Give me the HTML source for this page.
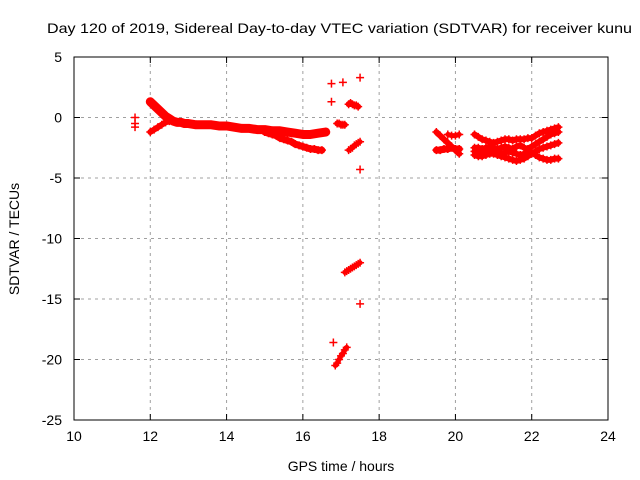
<!DOCTYPE html>
<html><head><meta charset="utf-8"><style>
body{margin:0;background:#fff}
svg{display:block;font-family:"Liberation Sans",sans-serif}
</style></head><body>
<svg id="chart" width="640" height="480" viewBox="0 0 640 480">
<rect width="640" height="480" fill="#fff"/>
<text x="47" y="33" font-size="14" textLength="585" lengthAdjust="spacingAndGlyphs">Day 120 of 2019, Sidereal Day-to-day VTEC variation (SDTVAR) for receiver kunu</text>
<text x="341" y="471" font-size="14" text-anchor="middle">GPS time / hours</text>
<text transform="translate(19,239) rotate(-90)" font-size="14" text-anchor="middle">SDTVAR / TECUs</text>
<g id="grid"></g>
<g id="ticks"></g>
<g id="marks"></g>
<rect x="74" y="57" width="534" height="363" fill="none" stroke="#000" stroke-width="1"/>
</svg>
<script>
const xTicks=[10,12,14,16,18,20,22,24];
const yTicks=[5,0,-5,-10,-15,-20,-25];
const s1x=[12.0,12.1,12.2,12.3,12.4,12.5,12.6,12.7,12.8,12.9,13.0,13.2,13.4,13.6,13.8,14.0,14.2,14.4,14.6,14.8,15.0,15.2,15.4,15.6,15.8,16.0,16.2,16.4,16.6];
const s1y=[1.3,1.0,0.7,0.4,0.1,-0.1,-0.3,-0.4,-0.4,-0.5,-0.5,-0.6,-0.6,-0.6,-0.7,-0.7,-0.8,-0.9,-0.9,-1.0,-1.0,-1.1,-1.1,-1.2,-1.3,-1.4,-1.4,-1.3,-1.2];
const s2x=[12.0,12.1,12.2,12.3,12.4,12.5];
const s2y=[-1.2,-1.0,-0.8,-0.6,-0.4,-0.3];
const s3x=[15.0,15.1,15.2,15.3,15.4,15.5,15.6,15.7,15.8,15.9,16.0,16.1,16.2,16.3,16.4,16.5];
const s3y=[-1.2,-1.3,-1.4,-1.5,-1.7,-1.8,-1.9,-2.0,-2.2,-2.3,-2.4,-2.5,-2.6,-2.6,-2.7,-2.7];
const s4x=[11.6,11.6,11.6,16.75,17.05,17.5,16.75,17.5,17.5,16.8];
const s4y=[0.0,-0.5,-0.8,2.8,2.9,3.3,1.3,-4.3,-15.4,-18.6];
const s5x=[16.9,16.95,17.0,17.05,17.1];
const s5y=[-0.5,-0.5,-0.6,-0.6,-0.6];
const s5bx=[17.2,17.25,17.3,17.35,17.4,17.45];
const s5by=[1.1,1.2,1.1,1.0,1.0,0.9];
const s6x=[17.2,17.25,17.3,17.35,17.4,17.45,17.5];
const s6y=[-2.7,-2.6,-2.5,-2.3,-2.2,-2.1,-2.0];
const s7x=[17.1,17.15,17.2,17.25,17.3,17.35,17.4,17.45,17.5];
const s7y=[-12.8,-12.7,-12.6,-12.5,-12.4,-12.3,-12.2,-12.1,-12.0];
const s8x=[16.85,16.9,16.95,17.0,17.05,17.1,17.15];
const s8y=[-20.5,-20.3,-20.0,-19.7,-19.5,-19.2,-19.0];
const s9x=[19.5,19.6,19.7,19.8,19.9,20.0,20.1];
const s9y=[-2.7,-2.7,-2.6,-2.6,-2.5,-2.6,-2.6];
const s9by=[-1.2,-1.5,-1.8,-2.1,-2.4,-2.7,-3.0];
const s9cx=[19.8,19.9,20.0,20.1];
const s9cy=[-1.4,-1.5,-1.5,-1.4];
const s10x=[20.5,20.6,20.7,20.8,20.9,21.0,21.1,21.2,21.3,21.4,21.5,21.6,21.7,21.8,21.9,22.0,22.1,22.2,22.3,22.4,22.5,22.6,22.7];
const s10y=[-1.4,-1.6,-1.8,-1.9,-2.0,-2.1,-2.0,-1.9,-1.8,-1.8,-1.9,-1.8,-1.8,-1.8,-1.7,-1.7,-1.5,-1.3,-1.2,-1.1,-1.0,-0.9,-0.8];
const s11y=[-2.5,-2.5,-2.6,-2.5,-2.4,-2.5,-2.6,-2.5,-2.4,-2.5,-2.6,-2.4,-2.3,-2.5,-2.6,-2.4,-2.2,-2.0,-1.8,-1.6,-1.4,-1.3,-1.2];
const s12y=[-3.1,-3.2,-3.2,-3.1,-3.0,-3.0,-3.1,-3.2,-3.3,-3.4,-3.5,-3.6,-3.5,-3.4,-3.2,-3.0,-2.8,-2.6,-2.5,-2.4,-2.3,-2.2,-2.1];
const s13y=[-2.8,-2.9,-2.8,-2.7,-2.6,-2.8,-2.9,-3.0,-2.9,-2.8,-2.9,-3.0,-3.1,-3.0,-2.9,-2.9,-3.1,-3.3,-3.4,-3.5,-3.5,-3.4,-3.4];
const bands=[[s1x,s1y,9],[s2x,s2y,6],[s3x,s3y,7],[s5x,s5y,6],[s5bx,s5by,6],[s6x,s6y,5],[s7x,s7y,5],[s8x,s8y,5],[s9x,s9y,7],[s9x,s9by,6],[s9cx,s9cy,5],[s10x,s10y,6],[s10x,s11y,6],[s10x,s12y,6],[s10x,s13y,6]];
const singles=[[s4x,s4y]];
const NS='http://www.w3.org/2000/svg';
const X=v=>74+(v-10)*(534/14);
const Y=v=>57+(5-v)*(363/30);
function mk(tag,attrs,parent){const e=document.createElementNS(NS,tag);for(const k in attrs)e.setAttribute(k,attrs[k]);parent.appendChild(e);return e;}
const grid=document.getElementById('grid'),ticks=document.getElementById('ticks'),marks=document.getElementById('marks');
xTicks.forEach(t=>{const x=X(t);
 if(t>10&&t<24){const l=mk('line',{x1:x,x2:x,y1:57,y2:420,stroke:'#a0a0a0','stroke-dasharray':'3,4'},grid);
 
 }
 mk('line',{x1:x,x2:x,y1:420,y2:414,stroke:'#000'},ticks);mk('line',{x1:x,x2:x,y1:57,y2:63,stroke:'#000'},ticks);
 const tx=mk('text',{x:x,y:441,'font-size':14,'text-anchor':'middle'},ticks);tx.textContent=t;
 
 });
yTicks.forEach(t=>{const y=Y(t);
 if(t<5&&t>-25){const l=mk('line',{x1:74,x2:608,y1:y,y2:y,stroke:'#a0a0a0','stroke-dasharray':'3,4'},grid);
 
 }
 mk('line',{x1:74,x2:80,y1:y,y2:y,stroke:'#000'},ticks);mk('line',{x1:608,x2:602,y1:y,y2:y,stroke:'#000'},ticks);
 const tx=mk('text',{x:62,y:y+5,'font-size':14,'text-anchor':'end'},ticks);tx.textContent=t;
 
 });
function pts(xs,ys){xs.forEach((v,i)=>{const x=X(v),y=Y(ys[i]);
  const g=mk('path',{d:`M${x-4},${y}H${x+4}M${x},${y-4}V${y+4}`,stroke:'#f00','stroke-width':1.5},marks);
  
  });}
bands.forEach(([xs,ys,w])=>{
  const p=mk('polyline',{points:xs.map((v,i)=>X(v)+','+Y(ys[i])).join(' '),fill:'none',stroke:'#f00','stroke-width':w,'stroke-linejoin':'round','stroke-linecap':'round'},marks);
  
  
  pts(xs,ys);});
singles.forEach(([xs,ys])=>pts(xs,ys));
</script>
</body></html>
